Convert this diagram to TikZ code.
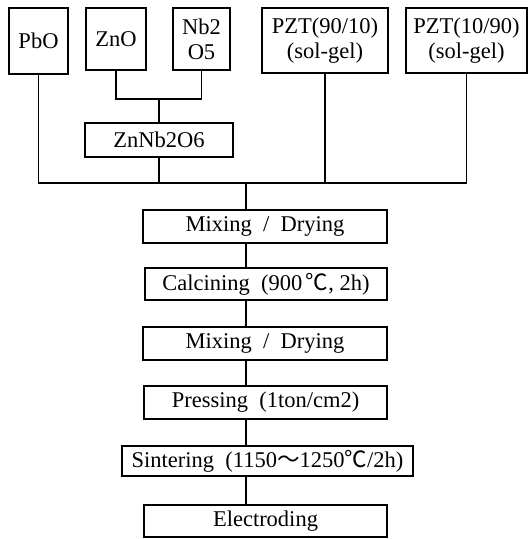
\documentclass[tikz,border=0pt]{standalone}
\usepackage{fontspec}
\setmainfont{Liberation Serif}
\newfontfamily\cjk{Noto Sans CJK SC}

\begin{document}
\begin{tikzpicture}[x=1pt, y=-1pt,
		every node/.style={font=\fontsize{22.5}{25}\selectfont},
		box/.style={draw, line width=1.3pt, inner sep=0pt, align=center},
		link/.style={line width=1.3pt}]
	
	\useasboundingbox (0,0) rectangle (529,539);
	
	% starting materials
	\node[box, minimum width=59, minimum height=66] (pbo) at (38.5,41) {PbO};
	\node[box, minimum width=60, minimum height=62] (zno) at (116,39) {ZnO};
	\node[box, minimum width=57, minimum height=62] (nbo) at (201.5,39) {Nb2\\O5};
	\node[box, minimum width=126, minimum height=65] (pzta) at (325,40.5) {PZT(90/10)\\(sol-gel)};
	\node[box, minimum width=121, minimum height=65] (pztb) at (466.5,40.5) {PZT(10/90)\\(sol-gel)};
	
	% columbite precursor
	\node[box, minimum width=148, minimum height=34] (znnb) at (159,140) {ZnNb2O6};
	
	% process steps
	\node[box, minimum width=244, minimum height=33] (mixa) at (265,226.5) {Mixing~~/~~Drying};
	\node[box, minimum width=242, minimum height=32] (calc) at (266,284) {Calcining~~(900\,{\cjk ℃}, 2h)};
	\node[box, minimum width=244, minimum height=33] (mixb) at (265,343.5) {Mixing~~/~~Drying};
	\node[box, minimum width=243, minimum height=33] (press) at (265.5,402.5) {Pressing~~(1ton/cm2)};
	\node[box, minimum width=291, minimum height=30] (sinter) at (267.5,461) {Sintering~~(1150{\cjk ～}1250{\cjk ℃}/2h)};
	\node[box, minimum width=243, minimum height=32] (elec) at (265.5,521) {Electroding};
	
	% joints
	\coordinate (znj) at (159,99);
	\coordinate (bus) at (246,183);
	
	% ZnO + Nb2O5 -> ZnNb2O6
	\draw[link] (zno.south) |- (znj);
	\draw[link] (nbo.south) |- (znj);
	\draw[link] (znj) -- (znnb.north);
	
	% collecting line
	\draw[link] (pbo.south) |- (bus);
	\draw[link] (pztb.south) |- (bus);
	\draw[link] (znnb.south) -- (znnb.south |- bus);
	\draw[link] (pzta.south) -- (pzta.south |- bus);
	\draw[link] (bus) -- (bus |- mixa.north);
	
	% step to step
	\foreach \a/\b in {mixa/calc, calc/mixb, mixb/press, press/sinter, sinter/elec}
	\draw[link] (\a.south -| bus) -- (\b.north -| bus);
	
\end{tikzpicture}
\end{document}
